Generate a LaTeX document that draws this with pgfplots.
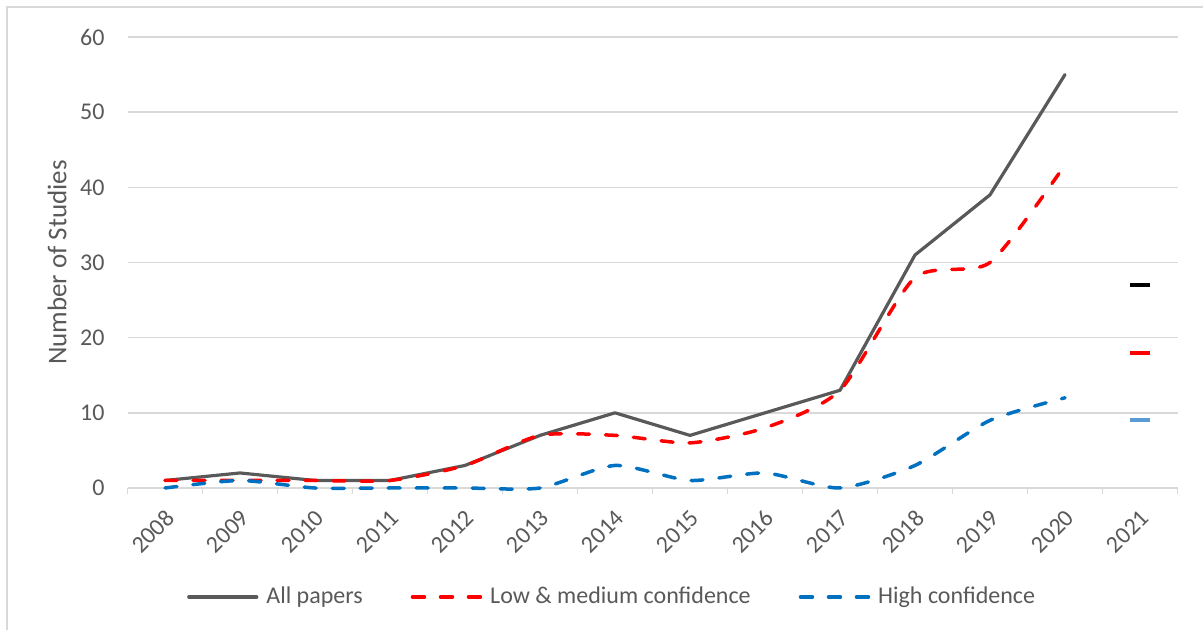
\documentclass[border=0pt]{standalone}
\usepackage{pgfplots}
\pgfplotsset{compat=1.18}
\usepackage{fontspec}
\setmainfont{Carlito}
\definecolor{txt}{HTML}{595959}
\definecolor{gridc}{HTML}{D9D9D9}
\definecolor{allc}{HTML}{595959}
\definecolor{lowc}{HTML}{FF0000}
\definecolor{highc}{HTML}{0070C0}
\definecolor{highl}{HTML}{5B9BD5}
\begin{document}
\begin{tikzpicture}
\useasboundingbox (0,0) rectangle (601.5pt,315pt);
\draw[gridc, line width=0.75pt] (3.5pt,0pt) -- (3.5pt,311.5pt) -- (601.5pt,311.5pt);
\begin{axis}[
  at={(63.75pt,71pt)}, anchor=south west,
  scale only axis, width=525pt, height=225.5pt,
  xmin=-0.5, xmax=13.5, ymin=0, ymax=60,
  xtick={0,...,13},
  xticklabels={2008,2009,2010,2011,2012,2013,2014,2015,2016,2017,2018,2019,2020,2021},
  minor xtick={-0.5,0.5,...,13.5},
  ytick={0,10,...,60},
  /pgf/number format/assume math mode=true,
  axis x line*=bottom, axis y line*=left,
  x axis line style={draw=gridc, line width=0.75pt, -},
  y axis line style={draw=none},
  tick align=outside,
  major tick length=0pt, minor tick length=3pt,
  every minor tick/.style={draw=gridc, line width=0.75pt},
  xmajorgrids=false, xminorgrids=false, ymajorgrids=true,
  major grid style={draw=gridc, line width=0.75pt},
  tick label style={font=\fontsize{12}{14}\selectfont, text=txt},
  xticklabel style={rotate=45, anchor=east, yshift=-11pt, xshift=-4pt},
  yticklabel style={xshift=-8pt},
  ylabel={Number of Studies},
  ylabel style={at={(axis description cs:-0.0671,0.5)}, anchor=center, font=\fontsize{13.5}{15}\selectfont, text=txt},
  legend columns=3,
  legend style={at={(0.4625,-0.2417)}, anchor=center, draw=none, fill=none,
    font=\fontsize{12}{14}\selectfont, text=txt,
    /tikz/every odd column/.append style={column sep=2pt},
    /tikz/every even column/.append style={column sep=22pt}},
  legend image code/.code={\draw[#1] (0pt,0pt) -- (34pt,0pt);},
  clip=false,
]
\addplot[allc, line width=1.6pt, line join=round, line cap=round] coordinates {
(0,1)(1,2)(2,1)(3,1)(4,3)(5,7)(6,10)(7,7)(8,10)(9,13)(10,31)(11,39)(12,55)};
\addlegendentry{All papers}
\addplot[lowc, line width=1.75pt, line cap=round, dash pattern=on 6pt off 8pt, smooth, tension=0.4] coordinates {
(0,1)(1,1)(2,1)(3,1)(4,3)(5,7)(6,7)(7,6)(8,8)(9,13)(10,28)(11,30)(12,43)};
\addlegendentry{Low \& medium confidence}
\addplot[highc, line width=1.75pt, line cap=round, dash pattern=on 6pt off 8pt, smooth, tension=0.4] coordinates {
(0,0)(1,1)(2,0)(3,0)(4,0)(5,0)(6,3)(7,1)(8,2)(9,0)(10,3)(11,9)(12,12)};
\addlegendentry{High confidence}
\addplot[forget plot, only marks, mark=-, mark size=5pt, mark options={black, line width=2pt}] coordinates {(13,27)};
\addplot[forget plot, only marks, mark=-, mark size=5pt, mark options={lowc, line width=2pt}] coordinates {(13,18)};
\addplot[forget plot, only marks, mark=-, mark size=5pt, mark options={highl, line width=2pt}] coordinates {(13,9)};
\end{axis}
\end{tikzpicture}
\end{document}
